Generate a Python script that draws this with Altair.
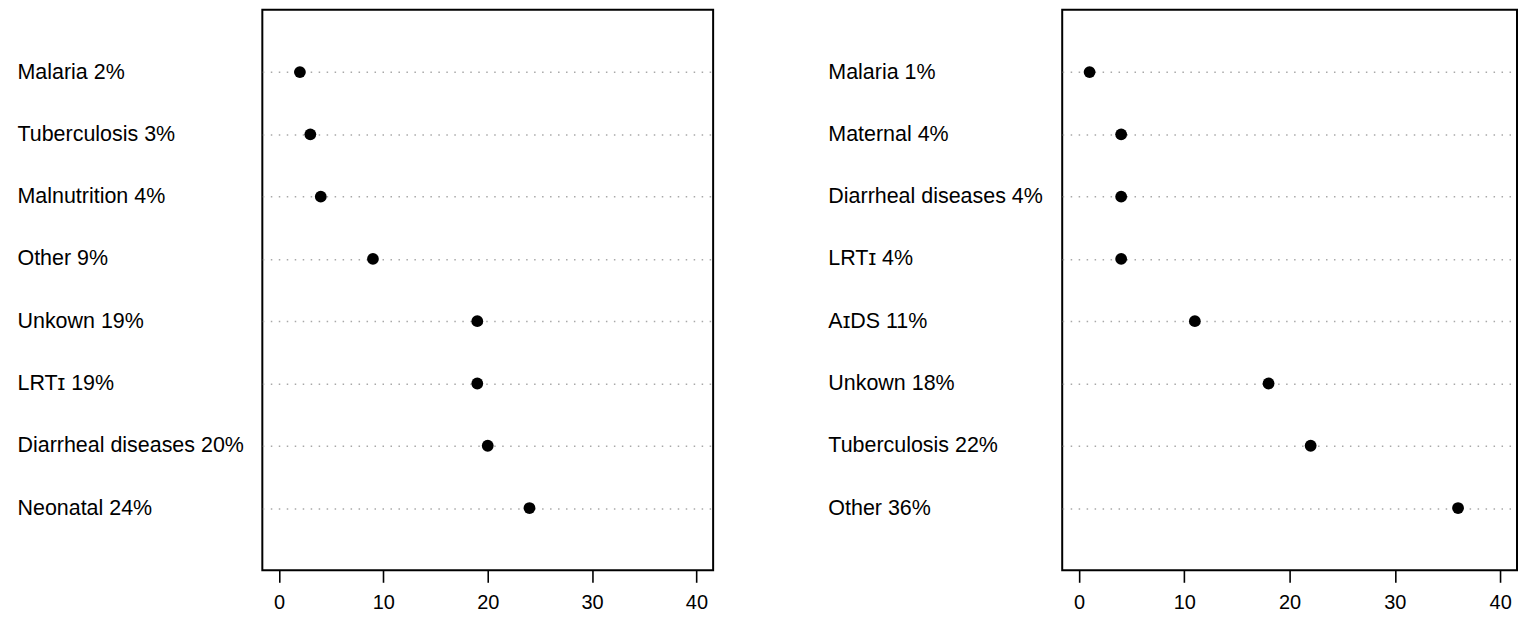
import altair as alt
import pandas as pd

# Left panel data (top to bottom)
left_causes = ["Malaria", "Tuberculosis", "Malnutrition", "Other", "Unkown",
               "LRTɪ", "Diarrheal diseases", "Neonatal"]
left_values = [2, 3, 4, 9, 19, 19, 20, 24]

# Right panel data (top to bottom)
right_causes = ["Malaria", "Maternal", "Diarrheal diseases", "LRTɪ", "AɪDS",
                "Unkown", "Tuberculosis", "Other"]
right_values = [1, 4, 4, 4, 11, 18, 22, 36]

x_ticks = [0, 10, 20, 30, 40]

FONT = "Liberation Sans"


def make_df(causes, values):
    labels = [f"{c} {v}%" for c, v in zip(causes, values)]
    return pd.DataFrame({"label": labels, "value": values}), labels


def panel(causes, values, width, label_pad):
    df, labels = make_df(causes, values)
    return alt.Chart(df).mark_circle(size=140, color="black", opacity=1).encode(
        x=alt.X("value:Q",
                scale=alt.Scale(domain=[-1.6, 41.6], nice=False, zero=False),
                axis=alt.Axis(values=x_ticks, title=None, grid=False, domain=False,
                              tickSize=12, tickWidth=1.6, tickColor="black",
                              labelFontSize=20, labelFont=FONT, labelColor="black",
                              labelPadding=10)),
        y=alt.Y("label:N", sort=labels,
                scale=alt.Scale(type="point", padding=1),
                axis=alt.Axis(title=None, domain=False, ticks=False, tickSize=0,
                              labelAlign="left", labelPadding=label_pad,
                              labelLimit=0,
                              labelFontSize=21.5, labelFont=FONT, labelColor="black",
                              labelBaseline="middle",
                              grid=True, gridDash=[1.5, 6.5], gridColor="#a8a8a8",
                              gridWidth=1.5)),
    ).properties(width=width, height=562)


left = panel(left_causes, left_values, 452, 246)
right = panel(right_causes, right_values, 456, 235)

chart = alt.hconcat(left, right, spacing=113).properties(
    padding={"left": 8, "top": 0, "right": 0, "bottom": 0}
).configure_view(stroke="black", strokeWidth=2)

chart.save("out.html", embed_options={"renderer": "svg", "actions": False})
